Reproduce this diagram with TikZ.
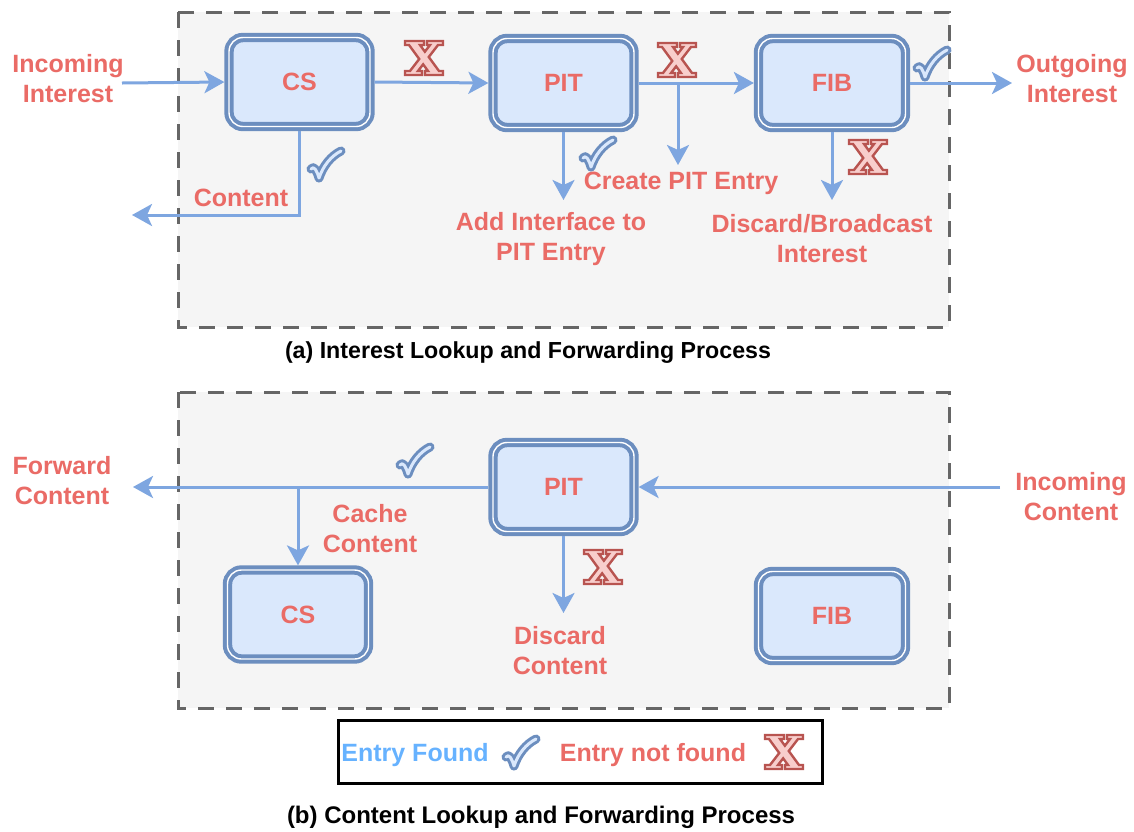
\documentclass[tikz,border=0pt]{standalone}
\usepackage{fontspec}
\setmainfont{Liberation Sans}
\usetikzlibrary{arrows.meta}
\definecolor{boxfill}{HTML}{DAE8FC}
\definecolor{boxborder}{HTML}{6C8EBF}
\definecolor{arrowblue}{HTML}{7EA6E0}
\definecolor{txtred}{HTML}{EA6B66}
\definecolor{xfill}{HTML}{F8CECC}
\definecolor{xborder}{HTML}{B85450}
\definecolor{bggray}{HTML}{F5F5F5}
\definecolor{dashgray}{HTML}{666666}
\definecolor{legblue}{HTML}{66B2FF}
\begin{document}
\begin{tikzpicture}[x=0.5pt,y=-0.5pt,
  lbl/.style={text=txtred, font=\bfseries\fontsize{12.5}{15}\selectfont, align=center, inner sep=0pt},
  captxt/.style={text=black, font=\bfseries\fontsize{11.6}{14}\selectfont, inner sep=0pt},
  blk/.style={lbl, draw=boxborder, line width=2pt, double=white, double distance=0.7pt,
    fill=boxfill, rounded corners=7pt, minimum width=70.5pt, minimum height=44.5pt, outer sep=2.3pt},
  arr/.style={draw=arrowblue, line width=1.5pt, -{Stealth[length=10pt,width=11pt,inset=2.5pt]}},
  frame/.style={fill=bggray, draw=dashgray, line width=1.5pt, dash pattern=on 8pt off 6pt},
  legendbox/.style={draw=black, line width=1.5pt, fill=white, minimum width=242pt, minimum height=31.5pt, inner sep=0pt},
  checkmark/.pic={\draw[draw=boxborder, line width=1.5pt, double=boxfill, double distance=1.5pt, line cap=round, line join=round]
      (-15,5) .. controls (-12,1) and (-9,7) .. (-7,14) .. controls (-3,2) and (5,-8) .. (15,-13);},
  crossmark/.pic={\draw[fill=xfill, draw=xborder, line width=1.2pt, line join=miter]
      (-19,-17) -- (0,-17) -- (0,-13) -- (-4,-13) -- (0.87,-6.33) -- (6,-13) -- (3,-13) -- (3,-17)
      -- (19,-17) -- (19,-13) -- (14,-13) -- (4.77,-1) -- (15,13) -- (19,13) -- (19,17)
      -- (1,17) -- (1,13) -- (4,13) -- (-0.87,6.33) -- (-6,13) -- (-2,13) -- (-2,17)
      -- (-19,17) -- (-19,13) -- (-14,13) -- (-4.77,1) -- (-15,-13) -- (-19,-13) -- cycle;}
]
\useasboundingbox[fill=white] (0,0) rectangle (1134,831);

% ---------- (a) ----------
\draw[frame] (178,12) rectangle (949,327);
\node[blk] (cs) at (299.5,82) {CS};
\node[blk] (pit) at (563.5,83) {PIT};
\node[blk, minimum width=73.5pt] (fib) at (832,83) {FIB};

\node[lbl] (lIn) at (68,79) {Incoming\\Interest};
\node[lbl] (lOut) at (1072,79) {Outgoing\\Interest};
\node[lbl] (lContent) at (241,198) {Content};
\node[lbl] (lCreate) at (681,183) {Create PIT Entry};
\node[lbl] (lAdd) at (551,239) {Add Interface to\\PIT Entry};
\node[lbl] (lDisc) at (822,239) {Discard/Broadcast\\Interest};

\coordinate (inA) at (122,83);
\coordinate (outA) at (1012,83);
\coordinate (contEnd) at (132,215);
\coordinate (pitDown) at (563.5,200);
\coordinate (brTop) at (678,83);
\coordinate (brEnd) at (678,165);
\coordinate (fibDown) at (832,200);

\draw[arr] (inA) -- (cs.west);
\draw[arr] (cs.east) -- (pit.west);
\draw[arr] (pit.east) -- (fib.west);
\draw[arr] (fib.east) -- (outA);
\draw[arr] (cs.south) |- (contEnd);
\draw[arr] (pit.south) -- (pitDown);
\draw[arr] (brTop) -- (brEnd);
\draw[arr] (fib.south) -- (fibDown);

\pic at (424,58) {crossmark};
\pic at (677,60) {crossmark};
\pic at (868,157) {crossmark};
\pic at (326,164) {checkmark};
\pic at (598,153) {checkmark};
\pic at (932,63) {checkmark};

\node[captxt] (capA) at (528,353) {(a) Interest Lookup and Forwarding Process};

% ---------- (b) ----------
\draw[frame] (178,392) rectangle (949,708);
\node[blk] (pit2) at (563.5,487) {PIT};
\node[blk] (cs2) at (298,614.5) {CS};
\node[blk, minimum width=73.5pt] (fib2) at (832,616) {FIB};

\node[lbl] (lFwd) at (62,481) {Forward\\Content};
\node[lbl] (lCache) at (370,529) {Cache\\Content};
\node[lbl] (lDiscC) at (560,651) {Discard\\Content};
\node[lbl] (lInC) at (1071,497) {Incoming\\Content};

\coordinate (inC) at (1000,487);
\coordinate (fwdEnd) at (133,487);
\coordinate (brC) at (298,487);
\coordinate (discEnd) at (563.5,613);

\draw[arr] (inC) -- (pit2.east);
\draw[arr] (pit2.west) -- (fwdEnd);
\draw[arr] (brC) -- (cs2.north);
\draw[arr] (pit2.south) -- (discEnd);

\pic at (415,460) {checkmark};
\pic at (603,567) {crossmark};

% ---------- legend ----------
\node[legendbox] (legend) at (580,751.5) {};
\node[lbl, text=legblue] (lFound) at (415,755) {Entry Found};
\node[lbl] (lNot) at (653,755) {Entry not found};
\pic at (521,752) {checkmark};
\pic at (784,752) {crossmark};

\node[captxt, font=\bfseries\fontsize{12}{14}\selectfont] (capB) at (541,817) {(b) Content Lookup and Forwarding Process};
\end{tikzpicture}
\end{document}
